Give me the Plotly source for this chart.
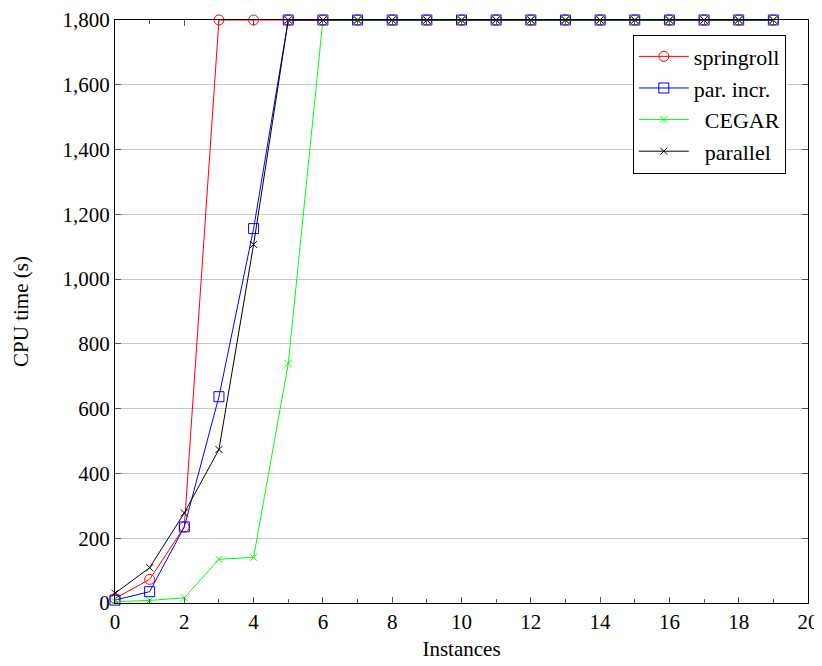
import plotly.graph_objects as go

x = list(range(20))
springroll = [14, 73, 235, 1800, 1800] + [1800] * 15
par_incr = [9, 35, 235, 637, 1156] + [1800] * 15
cegar = [4, 8, 16, 135, 141, 739] + [1800] * 14
parallel = [30, 109, 278, 474, 1107] + [1800] * 15
names = ["springroll", "par. incr.", "\u00a0\u00a0CEGAR", "\u00a0\u00a0parallel"]

FONT = "Liberation Serif"

fig = go.Figure()
fig.add_trace(go.Scatter(x=x, y=springroll, name=names[0], mode="lines+markers",
                         line=dict(color="red", width=1),
                         marker=dict(symbol="circle-open", size=10, color="red", line=dict(width=1)),
                         cliponaxis=False))
fig.add_trace(go.Scatter(x=x, y=par_incr, name=names[1], mode="lines+markers",
                         line=dict(color="blue", width=1),
                         marker=dict(symbol="square-open", size=10, color="blue", line=dict(width=1)),
                         cliponaxis=False))
fig.add_trace(go.Scatter(x=x, y=cegar, name=names[2], mode="lines+markers",
                         line=dict(color="#00ff00", width=1),
                         marker=dict(symbol="x-thin-open", size=7, color="#00ff00", line=dict(width=1, color="#00ff00")),
                         cliponaxis=False))
fig.add_trace(go.Scatter(x=x, y=parallel, name=names[3], mode="lines+markers",
                         line=dict(color="black", width=1),
                         marker=dict(symbol="x-thin-open", size=7, color="black", line=dict(width=1, color="black")),
                         cliponaxis=False))

fig.update_layout(
    width=814, height=658,
    margin=dict(l=107, r=14, t=12, b=63, autoexpand=False),
    paper_bgcolor="white", plot_bgcolor="white",
    font=dict(family=FONT, size=21, color="black"),
    showlegend=True,
    legend=dict(x=0.968, y=0.975, xanchor="right", yanchor="top",
                bordercolor="black", borderwidth=1, bgcolor="white",
                font=dict(family=FONT, size=22), tracegroupgap=0,
                itemwidth=50),
    xaxis=dict(range=[0, 20], dtick=2, tick0=0, showgrid=False, zeroline=False,
               showline=True, linecolor="black", linewidth=1, mirror="ticks",
               ticks="inside", ticklen=6, tickcolor="#555", ticklabeloverflow="allow",
               minor=dict(dtick=1, ticks="inside", ticklen=4, tickcolor="#555", showgrid=False),
               title=dict(text="Instances", font=dict(family=FONT, size=21), standoff=8),
               tickfont=dict(family=FONT, size=21)),
    yaxis=dict(range=[0, 1800], dtick=200, tick0=0, showgrid=True, gridcolor="#c8c8c8",
               gridwidth=1, zeroline=False, separatethousands=True, tickformat=",d",
               showline=True, linecolor="black", linewidth=1, mirror="ticks",
               ticks="inside", ticklen=6, tickcolor="#555", ticklabeloverflow="allow",
               title=dict(text="CPU time (s)", font=dict(family=FONT, size=21), standoff=28),
               tickfont=dict(family=FONT, size=21)),
)

fig.write_html("out.html")
